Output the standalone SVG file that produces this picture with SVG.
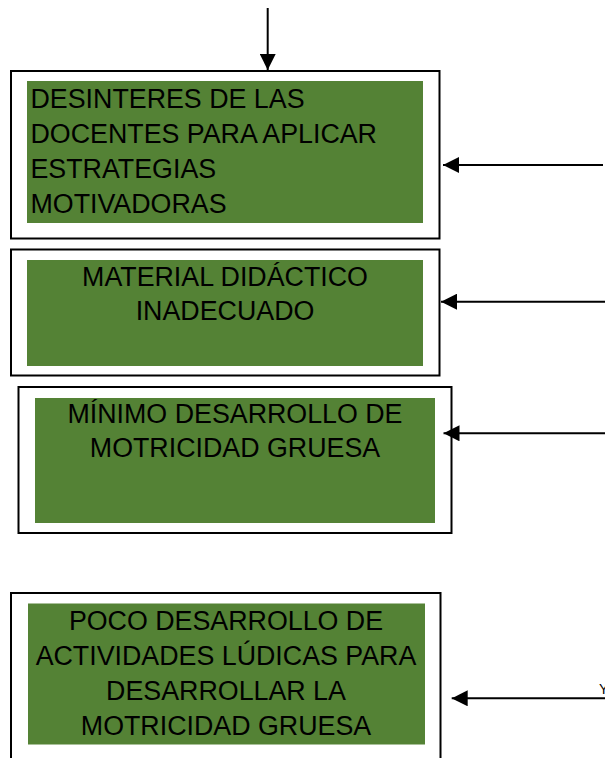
<svg xmlns="http://www.w3.org/2000/svg" width="605" height="758" viewBox="0 0 605 758">
<defs>
<style>
.frame{fill:#ffffff;stroke:#000000;stroke-width:2}
.fill{fill:#548235;stroke:none}
.t{font-family:"Liberation Sans",Arial,sans-serif;font-size:26.8px;fill:#000000}
.c{text-anchor:middle}
.conn{stroke:#000000;stroke-width:2;fill:none}
</style>
<marker id="ah" viewBox="0 0 16 16" refX="16" refY="8" markerWidth="16" markerHeight="16" markerUnits="userSpaceOnUse" orient="auto">
<path d="M0,0 L16,8 L0,16 Z" fill="#000000"/>
</marker>
</defs>
<rect width="605" height="758" fill="#ffffff"/>
<g id="node1">
<rect class="frame" x="11" y="71" width="428.5" height="167.5"/>
<rect class="fill" x="27" y="81" width="396" height="142"/>
<text class="t" x="30.5" y="107.5">DESINTERES DE LAS</text>
<text class="t" x="30.5" y="142.8">DOCENTES PARA APLICAR</text>
<text class="t" x="30.5" y="178">ESTRATEGIAS</text>
<text class="t" x="30.5" y="213.3">MOTIVADORAS</text>
</g>
<g id="node2">
<rect class="frame" x="11" y="249.5" width="428.5" height="126"/>
<rect class="fill" x="27" y="260" width="396" height="106"/>
<text class="t c" x="225" y="285.7">MATERIAL DIDÁCTICO</text>
<text class="t c" x="225" y="320">INADECUADO</text>
</g>
<g id="node3">
<rect class="frame" x="18.5" y="387" width="433" height="146"/>
<rect class="fill" x="35" y="398" width="400" height="125"/>
<text class="t c" x="235" y="422.7">MÍNIMO DESARROLLO DE</text>
<text class="t c" x="235" y="457.3">MOTRICIDAD GRUESA</text>
</g>
<g id="node4">
<rect class="frame" x="11" y="593" width="429.5" height="180"/>
<rect class="fill" x="28" y="603.5" width="397" height="141"/>
<text class="t c" x="226" y="630">POCO DESARROLLO DE</text>
<text class="t c" x="226" y="665">ACTIVIDADES LÚDICAS PARA</text>
<text class="t c" x="226" y="700">DESARROLLAR LA</text>
<text class="t c" x="226" y="735">MOTRICIDAD GRUESA</text>
</g>
<g id="connectors">
<line class="conn" x1="267.7" y1="8" x2="267.7" y2="70" marker-end="url(#ah)"/>
<line class="conn" x1="603" y1="165" x2="443" y2="165" marker-end="url(#ah)"/>
<line class="conn" x1="606" y1="301.7" x2="441" y2="301.7" marker-end="url(#ah)"/>
<line class="conn" x1="606" y1="433.3" x2="443.5" y2="433.3" marker-end="url(#ah)"/>
<line class="conn" x1="606" y1="698.3" x2="451.7" y2="698.3" marker-end="url(#ah)"/>
</g>
<text class="t" x="599" y="694" style="font-size:14px">Y</text>
</svg>
